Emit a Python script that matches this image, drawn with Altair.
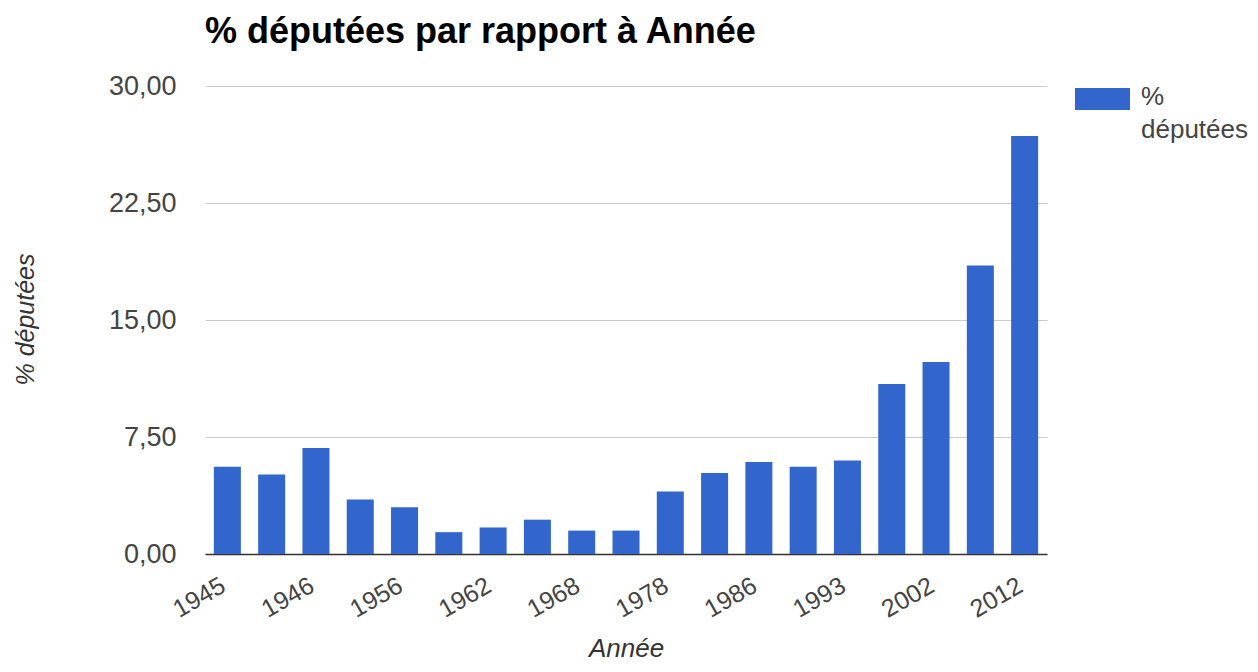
import altair as alt
import pandas as pd

# --- data -----------------------------------------------------------------
sessions = ["1945", "1946 (juin)", "1946 (nov.)", "1951", "1956", "1958", "1962",
            "1967", "1968", "1973", "1978", "1981", "1986", "1988", "1993",
            "1997", "2002", "2007", "2012"]
pct_deputees = [5.6, 5.1, 6.8, 3.5, 3.0, 1.4, 1.7, 2.2, 1.5, 1.5, 4.0, 5.2,
                5.9, 5.6, 6.0, 10.9, 12.3, 18.5, 26.8]
y_ticks = [0, 7.5, 15, 22.5, 30]
series_name = "% députées"

df = pd.DataFrame({"Session": sessions, "Pct": pct_deputees})
shown = sessions[::2]

FONT = "Liberation Sans"
BLUE = "#3366cc"
W, H = 842, 468

bars = alt.Chart(df).mark_bar(color=BLUE).encode(
    x=alt.X("Session:N", sort=sessions,
            scale=alt.Scale(paddingInner=0.39, paddingOuter=0.2),
            axis=alt.Axis(values=shown, labelExpr="slice(datum.label, 0, 4)",
                          labelAngle=330, labelAlign="right",
                          labelBaseline="alphabetic",
                          labelPadding=36, ticks=False, grid=False,
                          domainColor="#333333", domainWidth=1.5,
                          labelFontSize=25, labelColor="#444444", labelFont=FONT,
                          labelOverlap=False, labelBound=False,
                          title="Année", titleFont=FONT, titleFontSize=26,
                          titleFontStyle="italic", titleFontWeight="normal",
                          titleColor="#333333", titleX=W / 2, titleY=102,
                          titleAlign="center", titleBaseline="alphabetic")),
    y=alt.Y("Pct:Q", scale=alt.Scale(domain=[0, 30], nice=False),
            axis=alt.Axis(values=y_ticks,
                          labelExpr="replace(format(datum.value, '.2f'), '.', ',')",
                          ticks=False, domain=False, labelPadding=29,
                          labelFontSize=27, labelColor="#444444", labelFont=FONT,
                          gridColor="#cccccc", gridWidth=1,
                          title=series_name, titleFont=FONT, titleFontSize=25,
                          titleFontStyle="italic", titleFontWeight="normal",
                          titleColor="#333333", titleAngle=270,
                          titleX=-180, titleY=233, titleAlign="center",
                          titleBaseline="middle")),
)

legend_data = alt.Data(values=[{"serie": series_name}])
legend_rect = alt.Chart(legend_data).mark_rect(color=BLUE).encode(
    x=alt.value(870), x2=alt.value(925), y=alt.value(2), y2=alt.value(24)
)
legend_text = alt.Chart(legend_data).mark_text(
    text=["%", "députées"], lineHeight=33, align="left", baseline="alphabetic",
    fontSize=26, font=FONT, color="#444444"
).encode(x=alt.value(936), y=alt.value(19))

chart = alt.layer(bars, legend_rect, legend_text).properties(
    width=W, height=H,
    autosize=alt.AutoSizeParams(type="none"),
    padding={"left": 197, "top": 78, "right": 203, "bottom": 108},
    title=alt.TitleParams("% députées par rapport à Année", anchor="start",
                          frame="group", font=FONT, fontSize=36,
                          fontWeight="bold", color="#000000",
                          baseline="alphabetic", offset=0, dy=7),
).configure_view(stroke=None)

chart.save("out.html", embed_options={"renderer": "svg", "actions": False})
